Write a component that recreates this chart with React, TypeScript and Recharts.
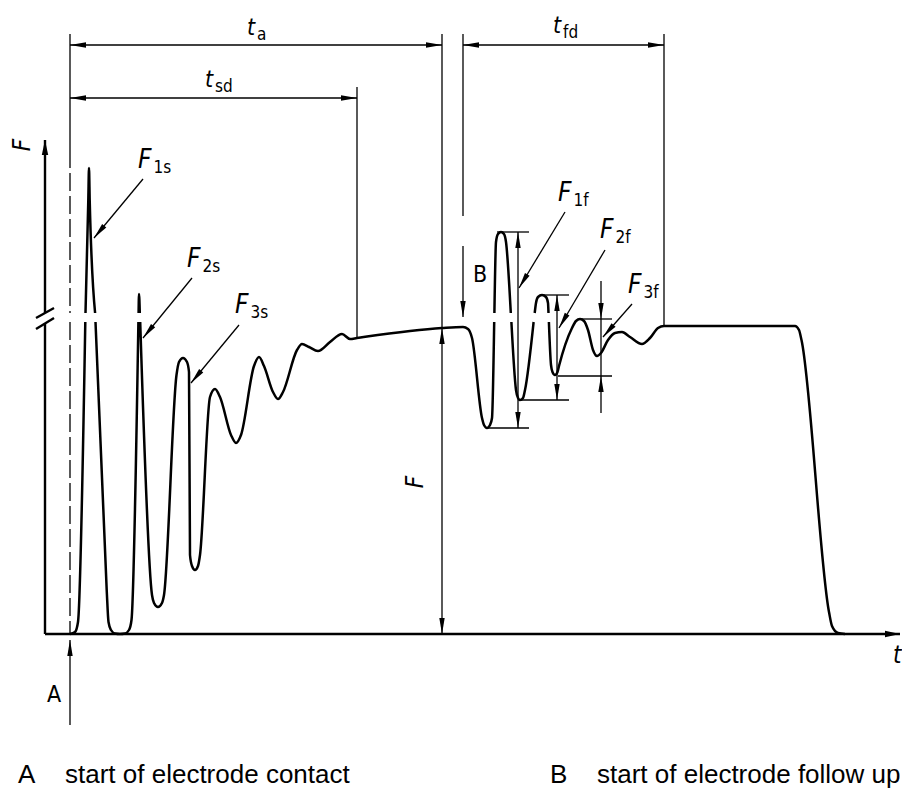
import React from "react";
import { LineChart, Line, XAxis, YAxis, ReferenceLine, ReferenceDot } from "recharts";

// Electrode force over time (schematic units). t = time, F = force above base line.
// null marks the gap where the curve crosses the axis break.
const curveT = [
  25, 30, 33, 40.3, 40.4, 40.5, 43.3, 44, 44.7, 50.1, 50.3, 50.5, 61.7, 63.5, 66, 70, 75, 80, 84,
  86.5, 93.4, 93.5, 93.6, 94, 94.8, 95, 95.2, 107, 109, 113, 117, 119, 131.5, 134, 138, 142, 144,
  145, 147, 150, 153, 155, 165, 170, 175, 186, 191, 196, 209, 214, 219, 228, 233,
  238, 252, 257, 264, 273, 285, 297, 305, 312, 397, 418, 423, 427, 437,
  439, 442, 445, 447, 449.2, 449.3, 449.4, 451, 453, 456, 459, 461, 465.8, 466.1, 466.4, 471, 473,
  475, 478, 480, 488.6, 489.1, 489.7, 491, 493, 497, 501, 503, 503.5, 503.7, 503.9, 506, 507.5, 510,
  512.5, 514, 527, 531, 535, 539, 543, 548, 552, 556, 563, 570, 577, 585, 597, 605, 613, 619, 750,
  754, 756.5, 784, 787, 793, 800,
];
const curveF: (number | null)[] = [
  0, 2, 12, 312, null, 321, 434, 466, 434, 321, null, 312, 44, 12, 4, 0.5, 0, 0.5, 4,
  14, 312, null, 321, 340, 321, null, 312, 39, 31, 27, 31, 39, 259, 272, 276, 272, 262,
  79, 68, 64, 68, 79, 237, 245, 237, 199, 191, 199, 268, 277, 268, 242, 235,
  242, 284, 290, 287, 283, 292, 300, 295, 296, 306, 307, 305, 296, 216,
  209, 206, 209, 216, 312, null, 321, 392, 400, 402, 400, 392, 321, null, 312, 244, 236,
  234, 236, 244, 312, null, 321, 331, 337, 339, 337, 331, 321, null, 312, 269, 262, 259,
  262, 268, 306, 313, 315, 313, 304, 284, 278, 281, 294, 301, 302, 297, 290, 296, 306, 308, 308,
  304, 294, 22, 8, 1, 0,
];

type Kind = "plain" | "end" | "both" | "dash";
type Seg = [number, number, number, number, Kind];

// axes, with the break marks
const axisSegs: Seg[] = [
  [0, 0, 0, 311, "plain"],
  [0, 321, 0, 494, "end"],
  [0, 0, 855, 0, "end"],
  [-9, 316, 9, 326, "plain"],
  [-9, 305, 9, 316, "plain"],
];

// extension, dimension and leader lines
const thinSegs: Seg[] = [
  [25, 600, 25, 484, "plain"],
  [25, 484, 25, 321, "dash"],
  [25, 312, 25, 0, "dash"],
  [25, -91, 25, -6, "end"],
  [25, 589, 397, 589, "both"],
  [397, 600, 397, 306, "plain"],
  [397, 306, 397, 0, "both"],
  [25, 536, 312, 536, "both"],
  [312, 547, 312, 296, "plain"],
  [418, 600, 418, 418, "plain"],
  [418, 388, 418, 317, "end"],
  [418, 589, 619, 589, "both"],
  [619, 600, 619, 308, "plain"],
  [452, 402, 484, 402, "plain"],
  [442, 206, 484, 206, "plain"],
  [473, 402, 473, 206, "both"],
  [495, 339, 524, 339, "plain"],
  [475, 234, 524, 234, "plain"],
  [512, 339, 512, 234, "both"],
  [535, 315, 567, 315, "plain"],
  [513, 258, 567, 258, "plain"],
  [556, 353, 556, 315, "end"],
  [556, 221, 556, 258, "end"],
  [556, 315, 556, 258, "plain"],
  [98, 455, 49, 396, "end"],
  [147, 356, 98, 296, "end"],
  [194, 309, 146, 251, "end"],
  [520, 422, 474, 346, "end"],
  [560, 384, 514, 306, "end"],
  [587, 330, 558, 297, "end"],
];

// symbol labels: main letter (italic) + subscript
const symbols = [
  { main: "F", sub: "1s", t: 93, F: 466 },
  { main: "F", sub: "2s", t: 142, F: 367 },
  { main: "F", sub: "3s", t: 190, F: 321 },
  { main: "F", sub: "1f", t: 513, F: 433 },
  { main: "F", sub: "2f", t: 555, F: 396 },
  { main: "F", sub: "3f", t: 583, F: 341 },
  { main: "t", sub: "a", t: 202, F: 599 },
  { main: "t", sub: "sd", t: 160, F: 547 },
  { main: "t", sub: "fd", t: 508, F: 601 },
];

const plainLabels = [
  { text: "A", t: 2, F: -68, italic: false, rotate: false },
  { text: "B", t: 428, F: 352, italic: false, rotate: false },
  { text: "t", t: 848, F: -29, italic: true, rotate: false },
  { text: "F", t: -15, F: 489, italic: true, rotate: true },
  { text: "F", t: 378, F: 152, italic: true, rotate: true },
];

const legendItems = [
  { key: "A", text: "start of electrode contact", t: -27 },
  { key: "B", text: "start of electrode follow up", t: 505 },
];

const data = curveT.map((t, i) => ({ t, F: curveF[i] }));

const LABEL_FONT = "'DejaVu Sans Condensed', 'DejaVu Sans', sans-serif";

const lineShape = (kind: Kind, width: number, headLen: number, half: number) => (p: any) => {
  const x1 = Number(p.x1);
  const y1 = Number(p.y1);
  const x2 = Number(p.x2);
  const y2 = Number(p.y2);
  const len = Math.hypot(x2 - x1, y2 - y1) || 1;
  const ux = (x2 - x1) / len;
  const uy = (y2 - y1) / len;
  const head = (tx: number, ty: number, dx: number, dy: number) => {
    const bx = tx - dx * headLen;
    const by = ty - dy * headLen;
    return `${tx},${ty} ${bx - dy * half},${by + dx * half} ${bx + dy * half},${by - dx * half}`;
  };
  return (
    <g>
      <line
        x1={x1}
        y1={y1}
        x2={x2}
        y2={y2}
        stroke="#000"
        strokeWidth={width}
        strokeDasharray={kind === "dash" ? "18 5" : undefined}
      />
      {(kind === "end" || kind === "both") && <polygon points={head(x2, y2, ux, uy)} fill="#000" />}
      {kind === "both" && <polygon points={head(x1, y1, -ux, -uy)} fill="#000" />}
    </g>
  );
};

export default function App() {
  return (
    <div style={{ position: "absolute", left: 0, top: 0, width: 902, height: 789, background: "#fff" }}>
      <LineChart width={902} height={789} data={data} margin={{ top: 0, right: 0, bottom: 0, left: 0 }}>
        <XAxis dataKey="t" type="number" domain={[-45, 857]} scale="linear" allowDataOverflow hide />
        <YAxis type="number" domain={[-155, 634]} scale="linear" allowDataOverflow hide />
        <Line
          dataKey="F"
          type="monotone"
          stroke="#000"
          strokeWidth={2.5}
          dot={false}
          activeDot={false}
          connectNulls={false}
          isAnimationActive={false}
        />
        {axisSegs.map(([a, b, c, d, k], i) => (
          <ReferenceLine
            key={`ax${i}`}
            segment={[{ x: a, y: b }, { x: c, y: d }]}
            ifOverflow="visible"
            shape={lineShape(k, 2.4, 15, 3.2)}
          />
        ))}
        {thinSegs.map(([a, b, c, d, k], i) => (
          <ReferenceLine
            key={`th${i}`}
            segment={[{ x: a, y: b }, { x: c, y: d }]}
            ifOverflow="visible"
            shape={lineShape(k, 1.3, 16, 2.7)}
          />
        ))}
        {symbols.map((s, i) => (
          <ReferenceDot
            key={`sy${i}`}
            x={s.t}
            y={s.F}
            r={0}
            ifOverflow="visible"
            shape={(p: any) => (
              <text x={p.cx} y={p.cy} fontFamily={LABEL_FONT} fill="#000">
                <tspan fontStyle="italic" fontSize={s.main === "F" ? 26 : 23}>
                  {s.main}
                </tspan>
                <tspan dx={2} dy={5} fontSize={17}>
                  {s.sub}
                </tspan>
              </text>
            )}
          />
        ))}
        {plainLabels.map((l, i) => (
          <ReferenceDot
            key={`pl${i}`}
            x={l.t}
            y={l.F}
            r={0}
            ifOverflow="visible"
            shape={(p: any) => (
              <text
                x={p.cx}
                y={p.cy}
                fontFamily={LABEL_FONT}
                fontSize={l.italic ? 24 : 23}
                fontStyle={l.italic ? "italic" : "normal"}
                textAnchor={l.rotate ? "middle" : "start"}
                transform={l.rotate ? `rotate(-90 ${p.cx} ${p.cy})` : undefined}
                fill="#000"
              >
                {l.text}
              </text>
            )}
          />
        ))}
        {legendItems.map((l, i) => (
          <ReferenceDot
            key={`lg${i}`}
            x={l.t}
            y={-149}
            r={0}
            ifOverflow="visible"
            shape={(p: any) => (
              <text x={p.cx} y={p.cy} fontFamily="'Liberation Sans', Arial, sans-serif" fontSize={26} fill="#000">
                {l.key}
                <tspan x={p.cx + 47}>{l.text}</tspan>
              </text>
            )}
          />
        ))}
      </LineChart>
    </div>
  );
}
